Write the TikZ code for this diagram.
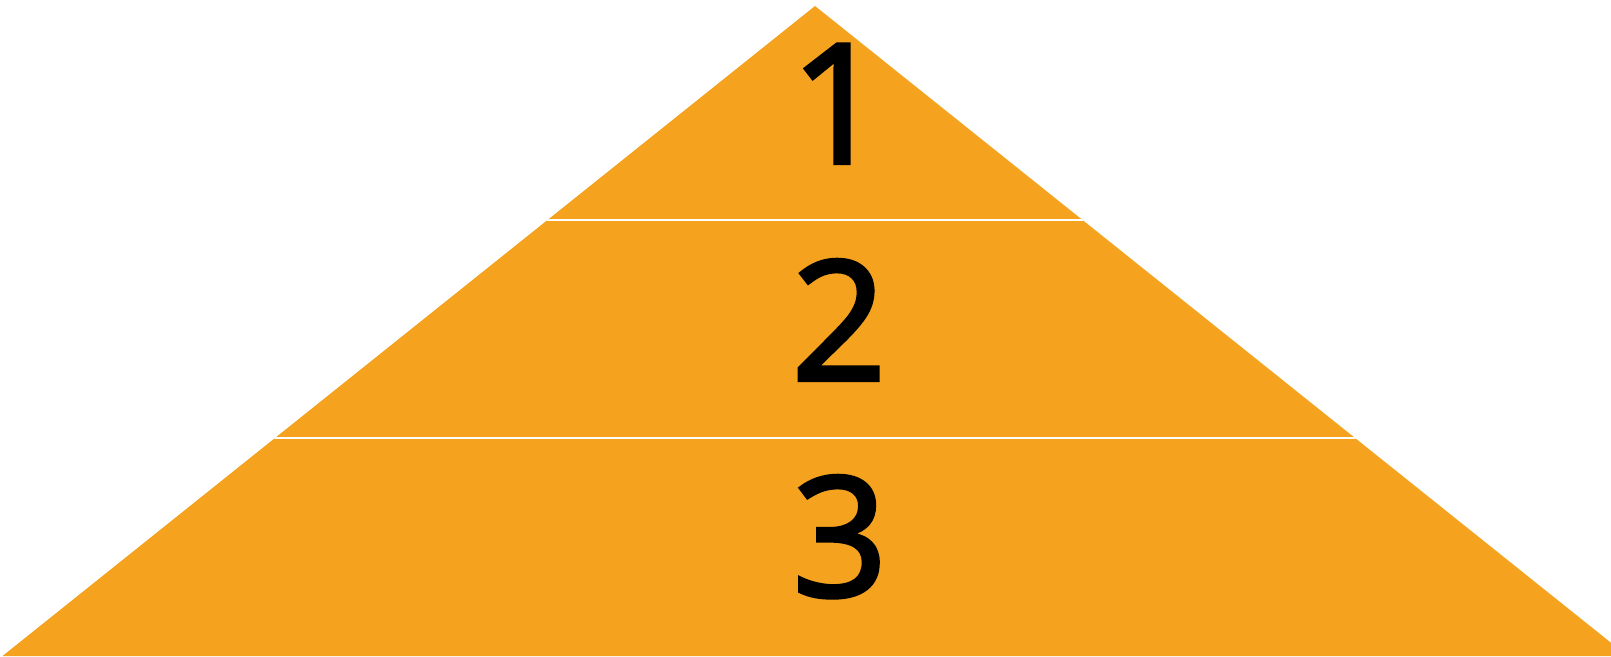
\documentclass[tikz,border=0pt]{standalone}
\usepackage{fontspec}
\setmainfont{Open Sans}
\newfontfamily\lvlfont[FakeBold=2.5]{Open Sans}
\usetikzlibrary{calc}
\definecolor{pyrorange}{HTML}{F5A31E}

\begin{document}
\begin{tikzpicture}[x=1pt,y=-1pt,
   sep/.style={draw=white,line width=2.5pt},
   lvl/.style={font=\lvlfont\fontsize{166}{166}\selectfont,inner sep=0pt,anchor=base}]
  \useasboundingbox (0,0) rectangle (1611,656);
  \coordinate (apex) at (815,6);
  \coordinate (baseL) at (2.5,656);
  \coordinate (baseR) at (1627.5,656);
  \fill[pyrorange] (apex) -- (baseL) -- (baseR) -- cycle;
  % white gaps between the tiers
  \begin{scope}
    \clip (apex) -- (baseL) -- (baseR) -- cycle;
    \draw[sep] (0,220) -- (1640,220);
    \draw[sep] (0,438) -- (1640,438);
  \end{scope}
  \node[lvl] (one) at (838,163) {1};
  \node[lvl] (two) at (839,380) {2};
  \node[lvl] (three) at (840,596) {3};
\end{tikzpicture}
\end{document}
